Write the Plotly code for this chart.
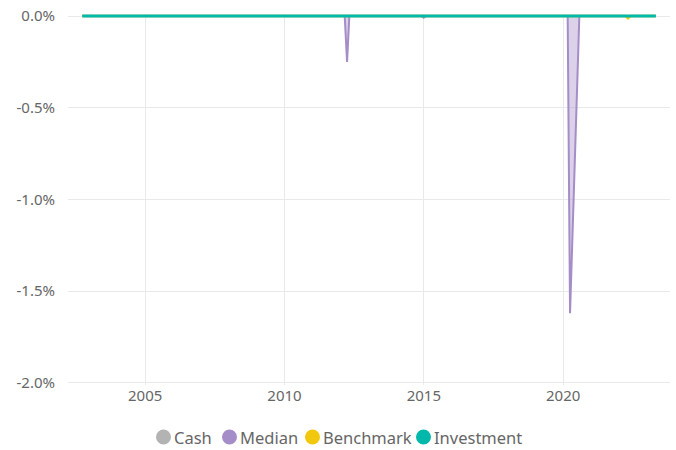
import plotly.graph_objects as go

# ---- data (drawdowns, fraction) ----
start_date = "2002-09-30"
end_date = "2023-04-30"

cash_dates = [start_date, end_date]
cash_values = [0.0, 0.0]

median_dates = [start_date, "2012-02-29", "2012-03-31", "2012-04-30",
                "2014-11-30", "2014-12-31", "2015-01-31",
                "2020-02-29", "2020-03-31", "2020-04-30", "2020-05-31",
                "2020-06-30", "2020-07-31", end_date]
median_values = [0.0, 0.0, -0.0025, 0.0,
                 0.0, -0.0001, 0.0,
                 0.0, -0.0162, -0.0122, -0.0081,
                 -0.0040, 0.0, 0.0]

benchmark_dates = [start_date, "2022-03-31", "2022-04-30", "2022-05-31", end_date]
benchmark_values = [0.0, 0.0, -0.00012, 0.0, 0.0]

investment_dates = [start_date, end_date]
investment_values = [0.0, 0.0]

series_names = ["Cash", "Median", "Benchmark", "Investment"]
y_tick_values = [0, -0.005, -0.01, -0.015, -0.02]
y_tick_labels = ["0.0%", "-0.5%", "-1.0%", "-1.5%", "-2.0%"]
x_tick_values = ["2005-01-01", "2010-01-01", "2015-01-01", "2020-01-01"]
x_tick_labels = ["2005", "2010", "2015", "2020"]

colors = {"Cash": "#b3b3b3", "Median": "#a58dc8", "Benchmark": "#f2c80f", "Investment": "#01b8aa"}
fills = {"Cash": "rgba(179,179,179,0.35)", "Median": "rgba(165,141,200,0.4)",
         "Benchmark": "rgba(242,200,15,0.35)", "Investment": "rgba(1,184,170,0.35)"}

data = {
    "Cash": (cash_dates, cash_values),
    "Median": (median_dates, median_values),
    "Benchmark": (benchmark_dates, benchmark_values),
    "Investment": (investment_dates, investment_values),
}
widths = {"Cash": 2, "Median": 2, "Benchmark": 2.5, "Investment": 3}

FONT = "Segoe UI, Noto Sans, Open Sans, sans-serif"

W, H = 676, 450
ML, MR, MT, MB = 68, 6, 14, 65
PW, PH = W - ML - MR, H - MT - MB

fig = go.Figure()
for name in series_names:
    xs, ys = data[name]
    fig.add_trace(go.Scatter(
        x=xs, y=ys, mode="lines", name=name, showlegend=False,
        line=dict(color=colors[name], width=widths[name]),
        fill="tozeroy", fillcolor=fills[name], hoverinfo="x+y+name"))

# custom legend (circle + label) laid out in pixels below the plot
legend_circle_px = [163.5, 229.5, 312.5, 423.5]
legend_y_px = 437
ly = (H - MB - legend_y_px) / PH
for name, cx in zip(series_names, legend_circle_px):
    xp = (cx - ML) / PW
    fig.add_shape(type="circle", xref="paper", yref="paper",
                  xsizemode="pixel", ysizemode="pixel",
                  xanchor=xp, yanchor=ly, x0=-7.5, x1=7.5, y0=-7.5, y1=7.5,
                  fillcolor=colors[name], line=dict(width=0))
    fig.add_annotation(text=name, xref="paper", yref="paper",
                       x=(cx + 9 - ML) / PW, y=ly, xanchor="left", yanchor="middle",
                       showarrow=False, borderpad=0,
                       font=dict(family=FONT, size=16.5, color="#666666"))

fig.update_layout(
    width=W, height=H,
    margin=dict(l=ML, r=MR, t=MT, b=MB),
    paper_bgcolor="white", plot_bgcolor="white",
    font=dict(family=FONT, color="#666666", size=15),
    showlegend=False,
    xaxis=dict(type="date", range=["2002-03-27", "2023-11-01"],
               showgrid=True, gridcolor="#e9e9e9", gridwidth=1,
               tickvals=x_tick_values, ticktext=x_tick_labels,
               showline=False, zeroline=False, ticks="", automargin=False,
               tickfont=dict(size=15, color="#666666")),
    yaxis=dict(range=[-0.02011, 0.00011],
               tickvals=y_tick_values, ticktext=y_tick_labels,
               showgrid=True, gridcolor="#e9e9e9", gridwidth=1,
               zeroline=False, showline=False, ticks="", automargin=False,
               ticklabelstandoff=12,
               tickfont=dict(size=15, color="#666666")),
)

fig.write_html("out.html", config={"displayModeBar": False},
               post_script="document.body.style.margin='0';document.body.style.overflow='hidden';")
